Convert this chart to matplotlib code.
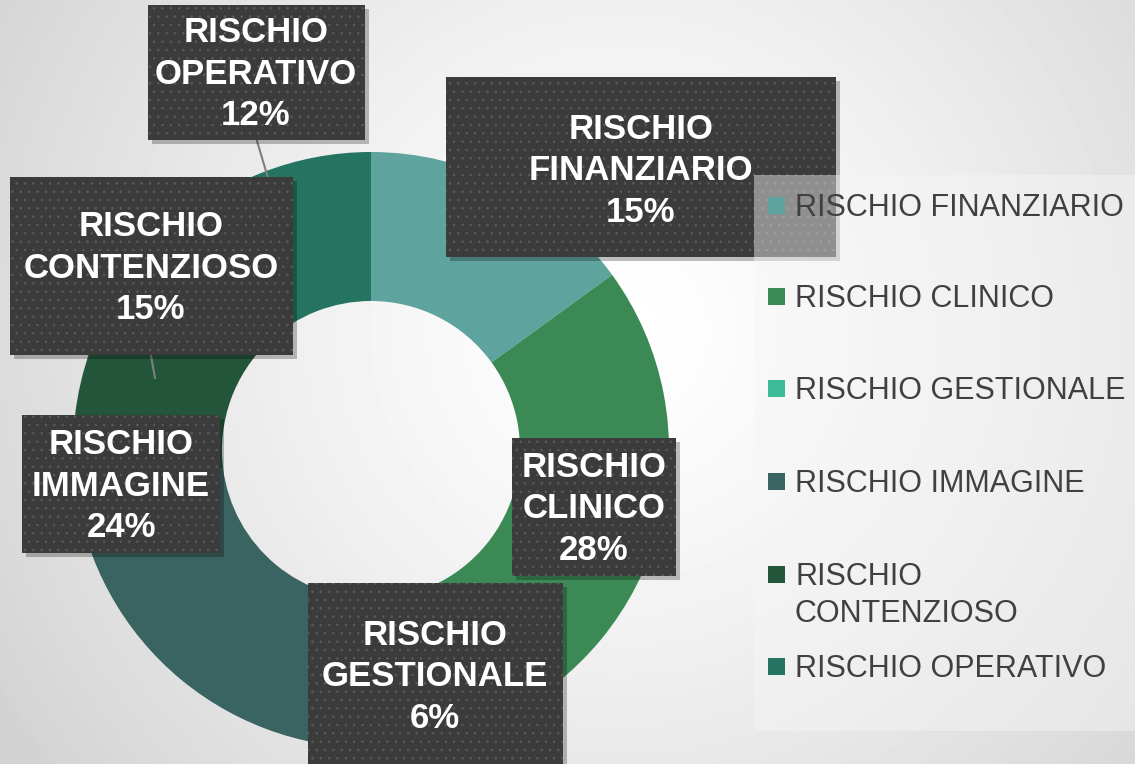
import numpy as np
import matplotlib.pyplot as plt
from matplotlib.patches import Rectangle

categories = ["RISCHIO FINANZIARIO", "RISCHIO CLINICO", "RISCHIO GESTIONALE",
              "RISCHIO IMMAGINE", "RISCHIO CONTENZIOSO", "RISCHIO OPERATIVO"]
values = [15, 28, 6, 24, 15, 12]
colors = ["#5fa39e", "#3b8a56", "#3dba96", "#3a6461", "#22553a", "#247461"]

W, H = 1135, 764
plt.rcParams['font.family'] = ['Liberation Sans', 'DejaVu Sans']
plt.rcParams['hatch.linewidth'] = 0.6

fig = plt.figure(figsize=(W / 100, H / 100), dpi=100)
ax = fig.add_axes([0, 0, 1, 1])
ax.set_xlim(0, W)
ax.set_ylim(0, H)
ax.set_aspect('equal')
ax.axis('off')

# soft radial background
yy, xx = np.mgrid[0:H, 0:W]
d = np.hypot(xx - 620, yy - 330) / 720.0
bg = 1.0 - 0.17 * np.clip(d, 0, 1) ** 1.3
ax.imshow(bg, cmap='gray', vmin=0, vmax=1, extent=[0, W, 0, H], origin='upper', zorder=0)

def py(y):
    return H - y

# donut
cx, cy, R = 371, py(450), 298
ax.pie(values, colors=colors, startangle=90, counterclock=False,
       center=(cx, cy), radius=R, frame=True,
       wedgeprops=dict(width=R * 0.5, linewidth=0, zorder=2))
ax.set_xlim(0, W)
ax.set_ylim(0, H)
ax.axis('off')

# leader lines
for (x0, y0), (x1, y1) in [((257, 141), (268, 178)), ((151, 356), (155, 378))]:
    ax.plot([x0, x1], [py(y0), py(y1)], color='#7f7f7f', lw=1.5, zorder=3)

# label boxes: (left, top, right, bottom) and text centre in pixels
boxes = {
    "RISCHIO FINANZIARIO": ((446, 77, 836, 257), (641, 171)),
    "RISCHIO CLINICO": ((512, 438, 676, 576), (594, 509)),
    "RISCHIO GESTIONALE": ((308, 583, 563, 768), (435, 677)),
    "RISCHIO IMMAGINE": ((22, 415, 220, 553), (121, 486)),
    "RISCHIO CONTENZIOSO": ((10, 177, 293, 355), (151, 268)),
    "RISCHIO OPERATIVO": ((148, 5, 365, 140), (256, 74)),
}
for name, val in zip(categories, values):
    (l, t, r, b), (tx, ty) = boxes[name]
    ax.add_patch(Rectangle((l + 4, py(b) - 4), r - l, b - t, facecolor='black',
                           alpha=0.25, lw=0, zorder=4))
    ax.add_patch(Rectangle((l, py(b)), r - l, b - t, facecolor='#3b3b3b',
                           edgecolor='#5a5a5a', hatch='..', lw=0, zorder=5))
    label = name.replace(" ", "\n") + "\n%d%%" % val
    ax.text(tx, py(ty), label, ha='center', va='center', color='white',
            fontsize=25, fontweight='bold', linespacing=1.34, zorder=6)

# legend (drawn over the labels with a translucent panel)
ax.add_patch(Rectangle((754, py(731)), W - 754, 731 - 175, facecolor='#f6f6f6',
                       alpha=0.45, lw=0, zorder=7))
legend_rows = [205, 296, 388, 481, 574, 666]
for name, col, ry in zip(categories, colors, legend_rows):
    ax.add_patch(Rectangle((768, py(ry) - 8.5), 17, 17, facecolor=col, lw=0, zorder=8))
    txt = "RISCHIO\nCONTENZIOSO" if name == "RISCHIO CONTENZIOSO" else name
    nl = txt.count("\n")
    ax.text(795, py(ry) - 11 - 37 * nl, txt, ha='left', va='baseline', color='#404040',
            fontsize=22, linespacing=1.3, zorder=8)

fig.savefig("out.png", dpi=100)
